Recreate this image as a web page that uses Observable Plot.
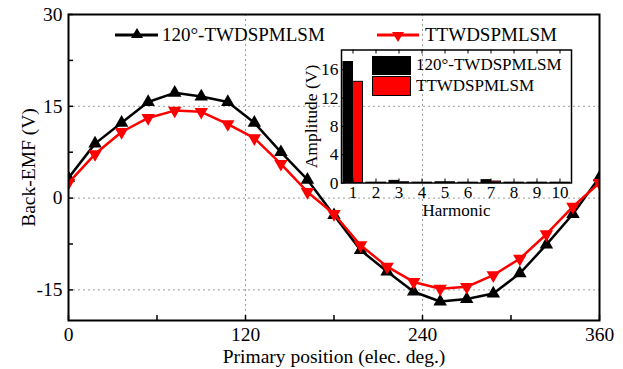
<!DOCTYPE html>
<html><head><meta charset="utf-8">
<script src="https://cdn.jsdelivr.net/npm/d3@7"></script>
<script src="https://cdn.jsdelivr.net/npm/@observablehq/plot@0.6"></script>
<style>
body{margin:0;background:#fff;}
#wrap{position:relative;width:623px;height:369px;font-family:"Liberation Serif","Times New Roman",serif;color:#000;}
#wrap svg{overflow:visible;}
#main{position:absolute;left:0;top:0;}
#inset{position:absolute;left:290px;top:40px;}
.leg{position:absolute;display:flex;align-items:center;white-space:nowrap;}
.sw{display:inline-block;box-sizing:border-box;border:1px solid #000;}
</style></head>
<body><div id="wrap"><div id="main"></div><div id="inset"></div>
<div class="leg" style="left:112px;top:23px;font-size:19px;"><svg width="48" height="24"><line x1="3" x2="46" y1="12" y2="12" stroke="#000" stroke-width="3"/><path d="M25,5 L31,15 L19,15 Z" fill="#000"/></svg><span style="margin-left:2px">120°-TWDSPMLSM</span></div>
<div class="leg" style="left:374px;top:23px;font-size:19px;"><svg width="48" height="24"><line x1="3" x2="45" y1="12" y2="12" stroke="#f00" stroke-width="3"/><path d="M24,19 L30,9 L18,9 Z" fill="#f00"/></svg><span style="margin-left:3px">TTWDSPMLSM</span></div>
<div class="leg" style="left:372px;top:55px;font-size:17px;"><span class="sw" style="width:39px;height:19px;background:#000"></span><span style="margin-left:5px">120°-TWDSPMLSM</span></div>
<div class="leg" style="left:372px;top:76px;font-size:17px;"><span class="sw" style="width:39px;height:20px;background:#f00"></span><span style="margin-left:5px">TTWDSPMLSM</span></div>
</div>
<script>
const seriesNames = ["120°-TWDSPMLSM", "TTWDSPMLSM"];
const angles = [0, 18, 36, 54, 72, 90, 108, 126, 144, 162, 180, 198, 216, 234, 252, 270, 288, 306, 324, 342, 360];
const emf120 = [3.3, 8.9, 12.3, 15.7, 17.2, 16.6, 15.7, 12.3, 7.5, 3.0, -2.8, -8.5, -12.0, -15.3, -16.9, -16.5, -15.6, -12.3, -7.6, -2.6, 3.4];
const emfTT = [2.5, 7.2, 10.8, 13.1, 14.3, 14.1, 12.1, 9.8, 5.6, 1.0, -2.6, -7.7, -11.2, -13.7, -14.8, -14.5, -12.6, -9.9, -5.9, -1.4, 2.5];
const xTicks = [0, 120, 240, 360];
const xMinorTicks = [60, 180, 300];
const yTicks = [-15, 0, 15, 30];
const yMinorTicks = [-7.5, 7.5, 22.5];
const harmonics = [1, 2, 3, 4, 5, 6, 7, 8, 9, 10];
const amp120 = [17.1, 0.05, 0.3, 0.05, 0.1, 0.05, 0.4, 0.05, 0.05, 0.05];
const ampTT = [14.3, 0.05, 0.1, 0.05, 0.1, 0.05, 0.2, 0.05, 0.05, 0.05];
const ampTicks = [0, 4, 8, 12, 16];

const font = '"Liberation Serif","Times New Roman",serif';
const fmt = d => String(d);
const d120 = angles.map((a, i) => ({a, v: emf120[i]}));
const dTT = angles.map((a, i) => ({a, v: emfTT[i]}));

const W = 623, H = 369, mL = 68, mR = 24, mT = 14, mB = 49;
const fw = W - mL - mR, fh = H - mT - mB;
const grid = {stroke: "#9a9a9a", strokeDasharray: "2,3", strokeWidth: 1, strokeOpacity: 1};

const main = Plot.plot({
  width: W, height: H, marginLeft: mL, marginRight: mR, marginTop: mT, marginBottom: mB,
  style: {fontFamily: font, background: "transparent", color: "#000"},
  x: {domain: [0, 360]},
  y: {domain: [-20, 30]},
  marks: [
    Plot.ruleY([15, 0, -15], grid),
    Plot.ruleX([120, 240], grid),
    Plot.tickY([...yTicks, ...yMinorTicks], {y: d => d, insetRight: fw - 5, stroke: "#000", strokeWidth: 1.5}),
    Plot.tickX([...xTicks, ...xMinorTicks], {x: d => d, insetTop: fh - 5, stroke: "#000", strokeWidth: 1.5}),
    Plot.line(d120, {x: "a", y: "v", stroke: "#000", strokeWidth: 2.5, clip: true}),
    Plot.dot(d120, {x: "a", y: "v", symbol: "triangle", r: 5, fill: "#000", stroke: "none", clip: true}),
    Plot.line(dTT, {x: "a", y: "v", stroke: "#f00", strokeWidth: 2.5, clip: true}),
    Plot.dot(dTT, {x: "a", y: "v", symbol: "triangle", rotate: 180, r: 5, fill: "#f00", stroke: "none", clip: true}),
    Plot.frame({stroke: "#000", strokeWidth: 2}),
    Plot.axisX({ticks: xTicks, tickFormat: fmt, tickSize: 0, tickPadding: 7, fontSize: 19.5, label: "Primary position (elec. deg.)", labelAnchor: "center", labelArrow: "none", labelOffset: 42}),
    Plot.axisY({ticks: yTicks, tickFormat: fmt, tickSize: 0, tickPadding: 6, fontSize: 19.5, label: "Back-EMF (V)", labelAnchor: "center", labelArrow: "none", labelOffset: 47})
  ]
});
document.getElementById("main").append(main);

const a120 = harmonics.map((h, i) => ({h, v: amp120[i]}));
const aTT = harmonics.map((h, i) => ({h, v: ampTT[i]}));
const iW = 290, iH = 180, iL = 51, iR = 9, iT = 9.5, iB = 37.5;
const ifw = iW - iL - iR, ifh = iH - iT - iB;
const inset = Plot.plot({
  width: iW, height: iH, marginLeft: iL, marginRight: iR, marginTop: iT, marginBottom: iB,
  style: {fontFamily: font, background: "transparent", color: "#000"},
  x: {type: "band", domain: harmonics, padding: 0},
  y: {domain: [0, 18.8]},
  marks: [
    Plot.barY(a120, {x: "h", y: "v", fill: "#000", stroke: "#000", strokeWidth: 1, insetLeft: 2, insetRight: 11.5}),
    Plot.barY(aTT, {x: "h", y: "v", fill: "#f00", stroke: "#000", strokeWidth: 1, insetLeft: 11.5, insetRight: 1.5}),
    Plot.tickY(ampTicks, {y: d => d, insetRight: ifw - 4, stroke: "#000"}),
    Plot.tickX(harmonics, {x: d => d, insetTop: ifh - 4, stroke: "#000"}),
    Plot.tickX(harmonics, {x: d => d, insetBottom: ifh - 4, stroke: "#000"}),
    Plot.frame({stroke: "#000", strokeWidth: 1.5}),
    Plot.axisX({tickFormat: fmt, tickSize: 0, tickPadding: 3, fontSize: 17, label: "Harmonic", labelAnchor: "center", labelArrow: "none", labelOffset: 33}),
    Plot.axisY({ticks: ampTicks, tickFormat: fmt, tickSize: 0, tickPadding: 3, fontSize: 17.5, label: "Amplitude (V)", labelAnchor: "center", labelArrow: "none", labelOffset: 37})
  ]
});
document.getElementById("inset").append(inset);
</script>
</body></html>
